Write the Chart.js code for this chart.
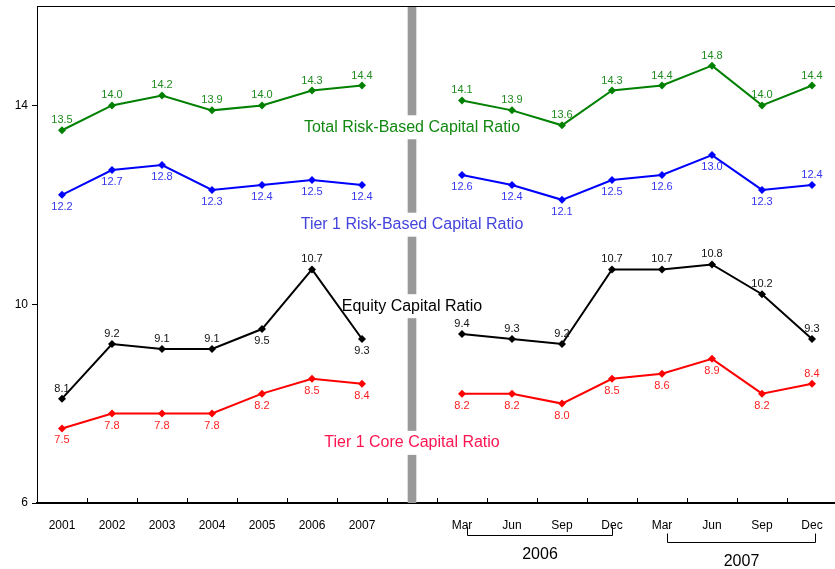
<!DOCTYPE html>
<html lang="en">
<head>
  <meta charset="UTF-8">
  <title>Capital Ratios</title>
  <script src="https://cdn.jsdelivr.net/npm/chart.js"></script>
  <style>
    html, body { margin: 0; padding: 0; background: #fff; }
    #wrap { width: 835px; height: 569px; overflow: hidden; }
  </style>
</head>
<body>
  <div id="wrap"><canvas id="ratioChart" width="837" height="569"></canvas></div>

  <script>
    // Categories: annual 2001-2007, a gap slot for the divider, then quarters 2006-2007
    const categories = ['2001', '2002', '2003', '2004', '2005', '2006', '2007', '',
      'Mar', 'Jun', 'Sep', 'Dec', 'Mar', 'Jun', 'Sep', 'Dec'];

    const totalRiskBased = [13.5, 14.0, 14.2, 13.9, 14.0, 14.3, 14.4, null,
      14.1, 13.9, 13.6, 14.3, 14.4, 14.8, 14.0, 14.4];
    const tier1RiskBased = [12.2, 12.7, 12.8, 12.3, 12.4, 12.5, 12.4, null,
      12.6, 12.4, 12.1, 12.5, 12.6, 13.0, 12.3, 12.4];
    const equityCapital = [8.1, 9.2, 9.1, 9.1, 9.5, 10.7, 9.3, null,
      9.4, 9.3, 9.2, 10.7, 10.7, 10.8, 10.2, 9.3];
    const tier1Core = [7.5, 7.8, 7.8, 7.8, 8.2, 8.5, 8.4, null,
      8.2, 8.2, 8.0, 8.5, 8.6, 8.9, 8.2, 8.4];

    // the gray divider between annual and quarterly data
    const divider = [null, null, null, null, null, null, null, [6, 16],
      null, null, null, null, null, null, null, null];

    const yTicks = [6, 10, 14];
    const yearGroups = [
      { label: '2006', from: 8, to: 11 },
      { label: '2007', from: 12, to: 15 }
    ];

    // label side for each point: 1 = above, -1 = below
    const totalSide = [1,1,1,1,1,1,1,0, 1,1,1,1,1,1,1,1];
    const tier1Side = [-1,-1,-1,-1,-1,-1,-1,0, -1,-1,-1,-1,-1,-1,-1,1];
    const equitySide = [1,1,1,1,-1,1,-1,0, 1,1,1,1,1,1,1,1];
    const coreSide = [-1,-1,-1,-1,-1,-1,-1,0, -1,-1,-1,-1,-1,-1,-1,1];

    function lineSet(label, data, color, labelColor, sides, nameY, nameColor) {
      return {
        type: 'line',
        label: label,
        data: data,
        borderColor: color,
        backgroundColor: color,
        borderWidth: 2,
        pointStyle: 'rectRot',
        pointRadius: 4,
        pointBorderWidth: 0,
        spanGaps: false,
        tension: 0,
        labelColor: labelColor,
        sides: sides,
        nameY: nameY,
        nameColor: nameColor
      };
    }

    // value labels, series names, top border, inward ticks, year brackets
    const decorPlugin = {
      id: 'decor',
      afterDatasetsDraw(chart) {
        const ctx = chart.ctx;
        const x = chart.scales.x;
        const y = chart.scales.y;
        const area = chart.chartArea;
        ctx.save();

        // top border
        ctx.strokeStyle = '#000';
        ctx.lineWidth = 1;
        ctx.beginPath();
        ctx.moveTo(area.left, area.top + 0.5);
        ctx.lineTo(area.right, area.top + 0.5);
        ctx.stroke();

        // inward tick marks between categories
        ctx.beginPath();
        for (let i = 0; i < categories.length - 1; i++) {
          const px = Math.round((x.getPixelForValue(i) + x.getPixelForValue(i + 1)) / 2) + 0.5;
          ctx.moveTo(px, area.bottom);
          ctx.lineTo(px, area.bottom - 5);
        }
        ctx.stroke();

        // value labels
        ctx.font = '11px Arial, "Liberation Sans", sans-serif';
        ctx.textAlign = 'center';
        ctx.textBaseline = 'middle';
        chart.data.datasets.forEach((ds, di) => {
          if (ds.type !== 'line') return;
          const meta = chart.getDatasetMeta(di);
          ctx.fillStyle = ds.labelColor;
          ds.data.forEach((v, i) => {
            if (v === null) return;
            const pt = meta.data[i];
            const off = ds.sides[i] > 0 ? -10 : 12;
            ctx.fillText(v.toFixed(1), pt.x, pt.y + off);
          });
        });

        // series names, with a white break cut into the divider
        ctx.font = '16px Arial, "Liberation Sans", sans-serif';
        const cx = x.getPixelForValue(7);
        chart.data.datasets.forEach((ds) => {
          if (ds.type !== 'line') return;
          const py = y.getPixelForValue(ds.nameY);
          ctx.fillStyle = '#fff';
          ctx.fillRect(cx - 8, py - 12, 16, 24);
          ctx.fillStyle = ds.nameColor;
          ctx.fillText(ds.label, cx, py);
        });

        // year brackets under the quarterly labels
        ctx.strokeStyle = '#000';
        ctx.lineWidth = 1;
        ctx.fillStyle = '#000';
        ctx.font = '16px Arial, "Liberation Sans", sans-serif';
        yearGroups.forEach((g, gi) => {
          const x0 = Math.round(x.getPixelForValue(g.from)) + 5.5;
          const x1 = Math.round(x.getPixelForValue(g.to)) + 0.5 + gi * 3;
          const by = area.bottom + 32.5 + gi * 7;
          ctx.beginPath();
          ctx.moveTo(x0, by - 9);
          ctx.lineTo(x0, by);
          ctx.lineTo(x1, by);
          ctx.lineTo(x1, by - 9);
          ctx.stroke();
          ctx.fillText(g.label, (x0 + x1) / 2, by + 19);
        });
        ctx.restore();
      }
    };

    const ctx = document.getElementById('ratioChart').getContext('2d');
    const ratioChart = new Chart(ctx, {
      data: {
        labels: categories,
        datasets: [
          lineSet('Total Risk-Based Capital Ratio', totalRiskBased, '#008000', '#1e8c1e', totalSide, 13.56, '#118811'),
          lineSet('Tier 1 Risk-Based Capital Ratio', tier1RiskBased, '#0000ff', '#3535f0', tier1Side, 11.6, '#4444dd'),
          lineSet('Equity Capital Ratio', equityCapital, '#000000', '#111111', equitySide, 9.96, '#000000'),
          lineSet('Tier 1 Core Capital Ratio', tier1Core, '#ff0000', '#ff2020', coreSide, 7.21, '#ff1450'),
          {
            type: 'bar',
            label: 'divider',
            data: divider,
            backgroundColor: '#999999',
            barThickness: 8,
            order: 10
          }
        ]
      },
      options: {
        responsive: false,
        animation: false,
        layout: { autoPadding: false, padding: { top: 6, right: 0, left: 0, bottom: 0 } },
        plugins: {
          legend: { display: false },
          tooltip: { enabled: false }
        },
        scales: {
          x: {
            type: 'category',
            offset: true,
            grid: { display: false },
            border: { display: true, color: '#000', width: 2 },
            ticks: {
              color: '#000',
              font: { family: 'Arial, "Liberation Sans", sans-serif', size: 12 },
              padding: 7,
              maxRotation: 0,
              autoSkip: false
            },
            afterFit(scale) {
              scale.height = 66;
              scale.paddingLeft = 0;
              scale.paddingRight = 0;
            }
          },
          y: {
            min: 6,
            max: 16,
            afterBuildTicks(scale) { scale.ticks = yTicks.map(v => ({ value: v })); },
            grid: { drawOnChartArea: false, tickLength: 5, color: '#000' },
            border: { display: true, color: '#000', width: 1 },
            ticks: {
              color: '#000',
              font: { family: 'Arial, "Liberation Sans", sans-serif', size: 12 },
              padding: 4
            },
            afterFit(scale) {
              scale.width = 37;
              scale.paddingTop = 0;
              scale.paddingBottom = 0;
            }
          }
        }
      },
      plugins: [decorPlugin]
    });
  </script>
</body>
</html>
